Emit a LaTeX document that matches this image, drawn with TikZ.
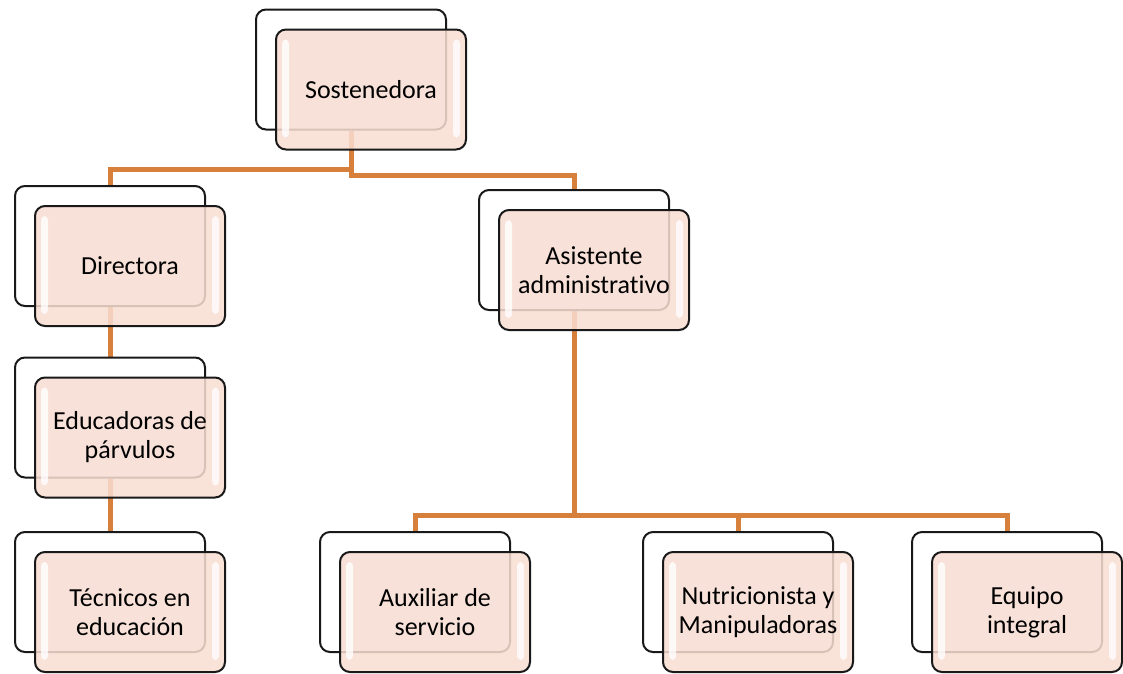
\documentclass[tikz,border=0pt]{standalone}
\usepackage{fontspec}
\setmainfont[RawFeature={-liga;-clig}]{Carlito}
\usepackage{xcolor}
\usetikzlibrary{calc,backgrounds}
\definecolor{relleno}{RGB}{248,221,210}
\definecolor{rama}{RGB}{214,128,60}

\begin{document}
\begin{tikzpicture}[x=1pt, y=-1pt,
    atras/.style={draw=black!90, line width=2pt, fill=white, rounded corners=10pt,
      minimum width=190pt, minimum height=120pt, inner sep=0pt},
    frente/.style={atras, fill=relleno, fill opacity=0.86, text opacity=1,
      align=center, font=\fontsize{26}{29}\selectfont},
    brillo/.style={fill=white, opacity=0.8, rounded corners=4pt},
    conector/.style={draw=rama, line width=5pt}]
  \useasboundingbox (0,0) rectangle (1123,673);

  % Cargos
  \foreach \n/\x/\y/\t in {sost/371/89.5/Sostenedora,
      dir/130/266/Directora,
      edu/130/437.5/{Educadoras de\\párvulos},
      tec/130/612/{Técnicos en\\educación},
      asis/594/270/{Asistente\\administrativo},
      aux/435/612/{Auxiliar de\\servicio},
      nut/758/612/{Nutricionista y\\Manipuladoras},
      equ/1027/612/{Equipo\\integral}} {
    \node[atras] (\n0) at (\x-20,\y-20) {};
    \node[frente] (\n) at (\x,\y) {\t};
    \fill[brillo] ($(\n.north west)+(7,11)$) rectangle ($(\n.south west)+(14,-13)$);
    \fill[brillo] ($(\n.north east)+(-7,11)$) rectangle ($(\n.south east)+(-14,-13)$);
  }

  % Ramas
  \coordinate (ji) at (351,169);
  \coordinate (jd) at (351,175);
  \coordinate (jb) at (574,515);
  \begin{pgfonlayer}{background}
    \draw[conector] (sost0) -- (jd) -| (asis0.north);
    \draw[conector] (ji) -| (dir0.north);
    \draw[conector] (dir0) -- (edu0);
    \draw[conector] (edu0) -- (tec0);
    \draw[conector] (asis0) -- (jb);
    \draw[conector] (aux0.north) |- (jb) -| (equ0.north);
    \draw[conector] (jb) -| (nut0.north);
  \end{pgfonlayer}
\end{tikzpicture}
\end{document}
